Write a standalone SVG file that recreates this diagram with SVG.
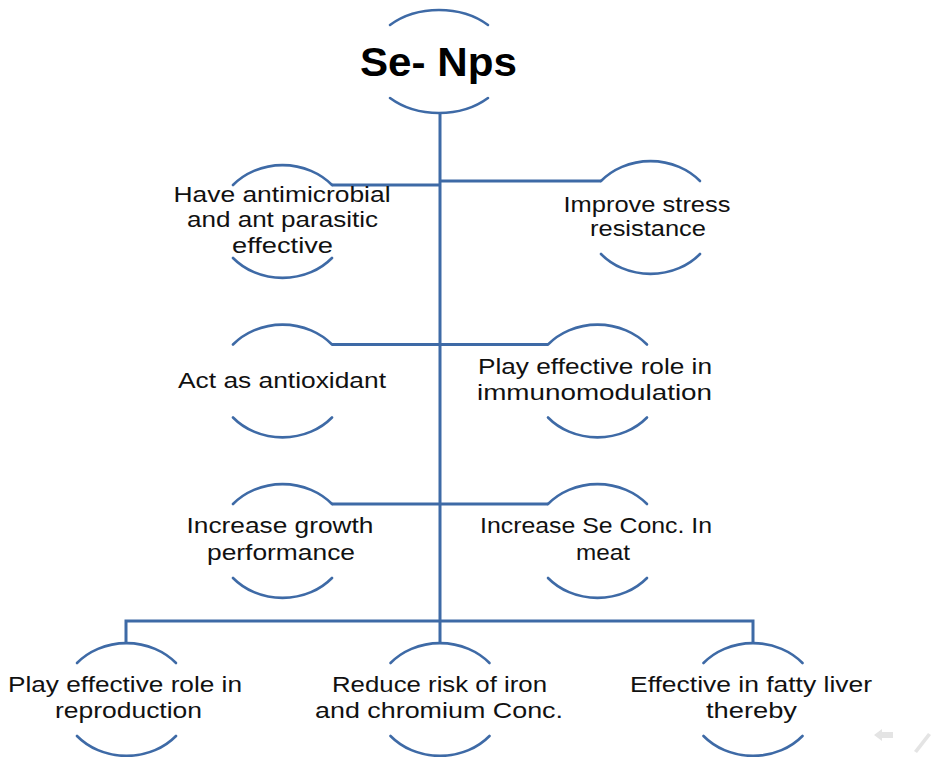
<svg xmlns="http://www.w3.org/2000/svg" width="931" height="757" viewBox="0 0 931 757">
<style>
.arc{fill:none;stroke:#3e6aa6;stroke-width:2.6;stroke-linecap:round}
.con{fill:none;stroke:#3e6aa6;stroke-width:3}
.t{font-family:"Liberation Sans","Open Sans",sans-serif;font-size:22px;fill:#111;text-anchor:middle}
.h{font-family:"Liberation Sans","Open Sans",sans-serif;font-size:40px;font-weight:bold;fill:#000;text-anchor:middle}
</style>
<rect width="931" height="757" fill="#fff"/>
<g id="connectors">
<path class="con" d="M440,113 V643"/>
<path class="con" d="M332,185 H440"/>
<path class="con" d="M440,181 H601"/>
<path class="con" d="M332,344.5 H548"/>
<path class="con" d="M332,504 H548"/>
<path class="con" d="M126,643 V621 H753 V643"/>
</g>
<g id="n-top">
<path class="arc" d="M390,25 A69.5,51.5 0 0 1 488,25"/>
<path class="arc" d="M390,98 A69.5,51.5 0 0 0 488,98"/>
<text class="h" x="438.5" y="76" textLength="157" lengthAdjust="spacingAndGlyphs">Se- Nps</text>
</g>
<g id="n-antimicrobial">
<path class="arc" d="M233,185 A65,56.5 0 0 1 332,185"/>
<path class="arc" d="M233,258 A65,56.5 0 0 0 332,258"/>
<text class="t" x="282" y="202" textLength="217" lengthAdjust="spacingAndGlyphs">Have antimicrobial</text>
<text class="t" x="282.5" y="227" textLength="191" lengthAdjust="spacingAndGlyphs">and ant parasitic</text>
<text class="t" x="282.5" y="253" textLength="101" lengthAdjust="spacingAndGlyphs">effective</text>
</g>
<g id="n-stress">
<path class="arc" d="M601,181 A65,56.5 0 0 1 700,181"/>
<path class="arc" d="M601,254 A65,56.5 0 0 0 700,254"/>
<text class="t" x="647" y="212" textLength="167" lengthAdjust="spacingAndGlyphs">Improve stress</text>
<text class="t" x="648" y="236" textLength="116" lengthAdjust="spacingAndGlyphs">resistance</text>
</g>
<g id="n-antioxidant">
<path class="arc" d="M233,344.5 A65,56.5 0 0 1 332,344.5"/>
<path class="arc" d="M233,417.5 A65,56.5 0 0 0 332,417.5"/>
<text class="t" x="282" y="388" textLength="208" lengthAdjust="spacingAndGlyphs">Act as antioxidant</text>
</g>
<g id="n-immuno">
<path class="arc" d="M548,344.5 A65,56.5 0 0 1 647,344.5"/>
<path class="arc" d="M548,417.5 A65,56.5 0 0 0 647,417.5"/>
<text class="t" x="595" y="374" textLength="234" lengthAdjust="spacingAndGlyphs">Play effective role in</text>
<text class="t" x="594.5" y="400" textLength="235" lengthAdjust="spacingAndGlyphs">immunomodulation</text>
</g>
<g id="n-growth">
<path class="arc" d="M233,504 A65,56.5 0 0 1 332,504"/>
<path class="arc" d="M233,578 A65,56.5 0 0 0 332,578"/>
<text class="t" x="280" y="533" textLength="187" lengthAdjust="spacingAndGlyphs">Increase growth</text>
<text class="t" x="281" y="560" textLength="148" lengthAdjust="spacingAndGlyphs">performance</text>
</g>
<g id="n-meat">
<path class="arc" d="M548,504 A65,56.5 0 0 1 647,504"/>
<path class="arc" d="M548,578 A65,56.5 0 0 0 647,578"/>
<text class="t" x="596" y="533" textLength="232" lengthAdjust="spacingAndGlyphs">Increase Se Conc. In</text>
<text class="t" x="603" y="560" textLength="54" lengthAdjust="spacingAndGlyphs">meat</text>
</g>
<g id="n-reproduction">
<path class="arc" d="M77,663 A65,56.5 0 0 1 176,663"/>
<path class="arc" d="M77,736 A65,56.5 0 0 0 176,736"/>
<text class="t" x="125" y="692" textLength="234" lengthAdjust="spacingAndGlyphs">Play effective role in</text>
<text class="t" x="128.5" y="718" textLength="147" lengthAdjust="spacingAndGlyphs">reproduction</text>
</g>
<g id="n-iron">
<path class="arc" d="M390.5,663 A65,56.5 0 0 1 489.5,663"/>
<path class="arc" d="M390.5,736 A65,56.5 0 0 0 489.5,736"/>
<text class="t" x="439.5" y="692" textLength="215" lengthAdjust="spacingAndGlyphs">Reduce risk of iron</text>
<text class="t" x="439" y="718" textLength="248" lengthAdjust="spacingAndGlyphs">and chromium Conc.</text>
</g>
<g id="n-liver">
<path class="arc" d="M703.5,663 A65,56.5 0 0 1 802.5,663"/>
<path class="arc" d="M703.5,736 A65,56.5 0 0 0 802.5,736"/>
<text class="t" x="751" y="692" textLength="242" lengthAdjust="spacingAndGlyphs">Effective in fatty liver</text>
<text class="t" x="751.5" y="718" textLength="91" lengthAdjust="spacingAndGlyphs">thereby</text>
</g>
<g id="nav" fill="#e4e4e4" stroke="none">
<path d="M874,735 L882,729 L882,732 L893,732 L893,738 L882,738 L882,741 Z"/>
<path d="M914,751 L928,733 L931,735 L917,753 Z"/>
</g>
</svg>
